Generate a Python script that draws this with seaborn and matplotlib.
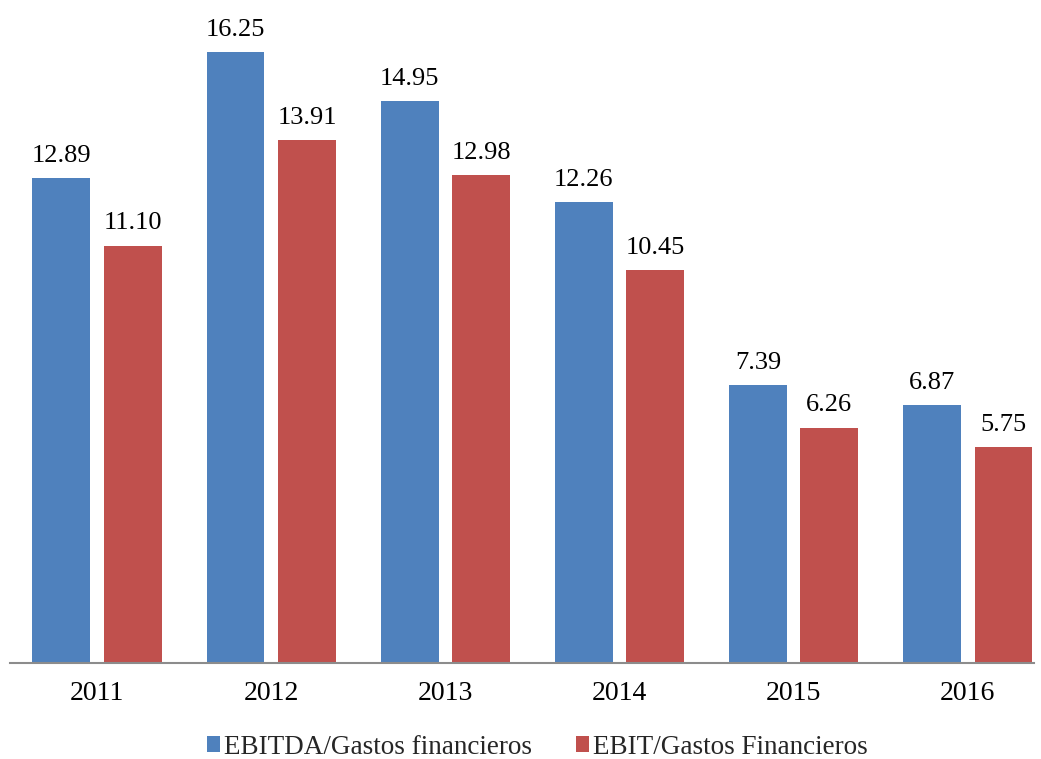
import pandas as pd
import matplotlib.pyplot as plt
import seaborn as sns

# Chart data
years = ["2011", "2012", "2013", "2014", "2015", "2016"]
ebitda = [12.89, 16.25, 14.95, 12.26, 7.39, 6.87]
ebit = [11.10, 13.91, 12.98, 10.45, 6.26, 5.75]
series_names = ["EBITDA/Gastos financieros", "EBIT/Gastos Financieros"]
colors = ["#4F81BD", "#C0504D"]

df = pd.DataFrame({
    "year": years * 2,
    "value": ebitda + ebit,
    "serie": [series_names[0]] * len(years) + [series_names[1]] * len(years),
})

sns.set_theme(style="white")
plt.rcParams["font.family"] = ["Liberation Serif", "DejaVu Serif"]

fig = plt.figure(figsize=(10.41, 7.59), dpi=100)
ax = fig.add_axes([10 / 1041, 96 / 759, 1024 / 1041, 663 / 759])

sns.barplot(data=df, x="year", y="value", hue="serie", palette=colors,
            saturation=1, width=0.82, gap=0.19, linewidth=0, ax=ax, legend=True)

# Value labels above bars
for cont in ax.containers:
    ax.bar_label(cont, fmt="%.2f", padding=8, fontsize=19, color="black")

ax.set_xlim(-0.5, 5.38)
ax.set_ylim(0, 17.63)
ax.set_xlabel("")
ax.set_ylabel("")
ax.set_yticks([])
ax.tick_params(axis="x", labelsize=20, pad=13, length=0, colors="black")
for side in ["top", "right", "left"]:
    ax.spines[side].set_visible(False)
ax.spines["bottom"].set_color("#8C8C8C")
ax.spines["bottom"].set_linewidth(1.5)

ax.legend(loc="center", bbox_to_anchor=(0.515, -0.127), ncol=2, frameon=False,
          fontsize=19.5, handlelength=0.5, handleheight=0.5, handletextpad=0.15,
          columnspacing=1.6, borderpad=0.2)

plt.savefig("out.png", dpi=100)
plt.close()
